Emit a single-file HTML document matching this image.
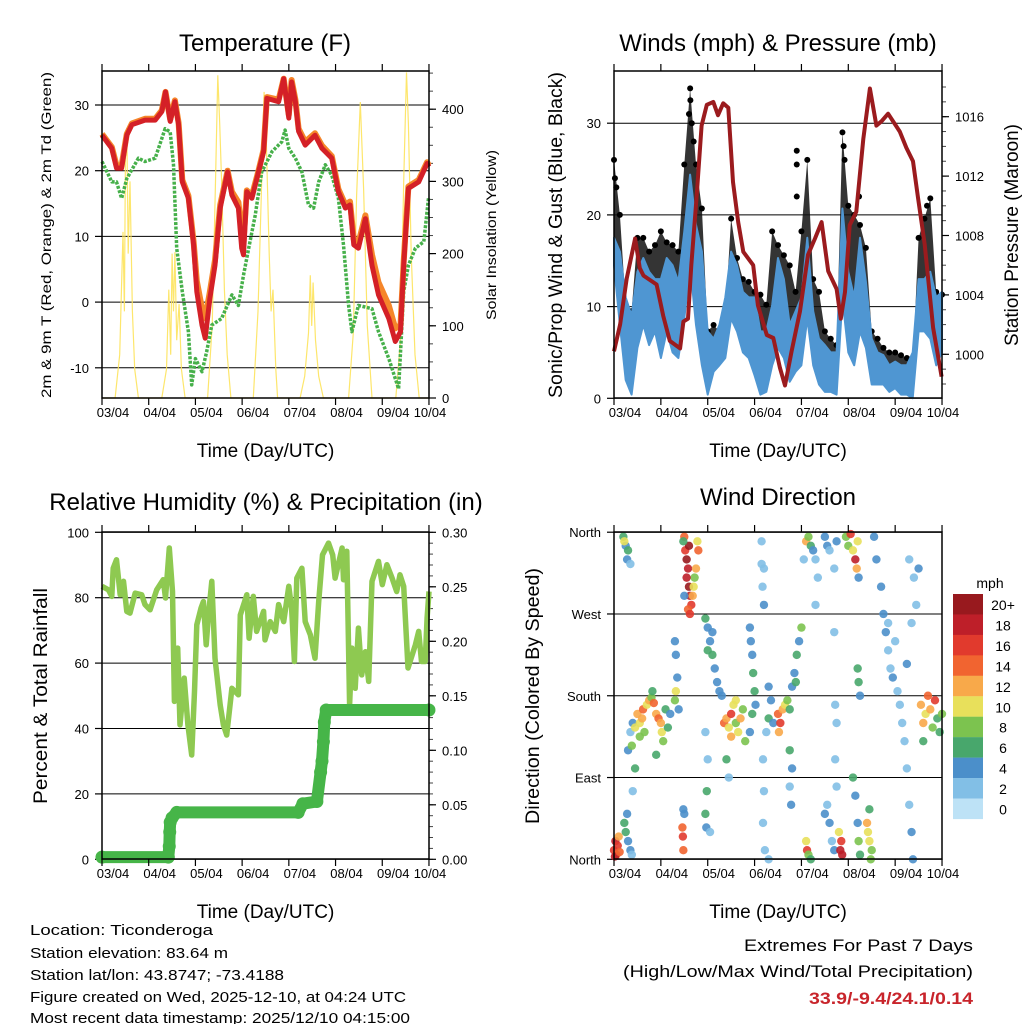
<!DOCTYPE html>
<html><head><meta charset="utf-8"><style>
body{margin:0;background:#fff;}
svg{display:block;font-family:"Liberation Sans",sans-serif;}
</style></head><body>
<svg id="c" width="1024" height="1024" viewBox="0 0 1024 1024"></svg>
<script>
// ---------- DATA ----------
const dayTickLabels=["03/04","04/04","05/04","06/04","07/04","08/04","09/04","10/04"];
const tempDay=[0,0.21,0.31,0.42,0.53,0.64,0.92,1.14,1.28,1.36,1.46,1.56,1.64,1.72,1.85,1.96,2.03,2.14,2.21,2.31,2.42,2.53,2.69,2.78,2.92,2.99,3.03,3.1,3.21,3.35,3.46,3.53,3.78,3.89,4.0,4.06,4.14,4.21,4.35,4.56,4.71,4.92,5.06,5.21,5.31,5.39,5.49,5.64,5.78,5.92,6.14,6.28,6.39,6.46,6.56,6.78,6.96,7.0];
const temp2m=[25.4,23.4,20.4,20.4,25.4,27,27.7,27.7,29,32,27.5,30.5,27,18.3,15.8,8.7,1.6,-3.5,-5.5,0.6,5.6,14.3,19.8,16.3,14.3,8.2,7.2,16.8,15.8,19.8,22.9,31,30.5,34,28,33.5,30.5,26,23.9,25.4,23.4,21.9,16.8,14.3,14.8,8.7,8.2,12.7,5.6,1.1,-2.5,-6.0,-4.5,5.6,17.3,18.3,21.1,20.6];
const temp9m=[25.6,23.6,20.8,20.8,25.6,27.2,27.9,27.9,29.2,32,27.8,30.7,27.3,18.6,16.2,9.2,3.2,-1.0,-2.5,1.6,6.4,14.8,20.0,16.8,15.2,10.5,9.0,17.0,16.2,20.0,23.2,31.2,30.8,34,28.5,33.8,30.8,26.4,24.4,25.7,23.8,22.2,17.2,14.8,15.3,9.5,9.0,13.2,7.2,3.0,-0.5,-4.0,-3.5,6.2,17.6,18.6,21.3,20.8];
const tdDay=[0,0.21,0.31,0.42,0.53,0.78,0.92,1.14,1.35,1.46,1.53,1.6,1.72,1.85,1.92,2.0,2.14,2.24,2.35,2.56,2.78,2.92,3.03,3.14,3.28,3.42,3.64,3.85,3.92,4.0,4.14,4.28,4.42,4.53,4.64,4.78,4.92,5.06,5.17,5.28,5.35,5.49,5.78,5.92,6.14,6.35,6.46,6.56,6.71,6.89,6.99];
const dewpoint=[21.4,18.3,18.3,15.8,18.8,21.9,21.4,21.9,26.4,25.9,20.9,8.2,1.6,-4.5,-12.6,-8.6,-10.6,-7.6,-3.5,-2.5,1.1,-0.5,4.1,8.2,13.2,19.8,22.9,24.4,26.2,23.4,21.9,19.8,14.8,14.3,18.3,20.9,19.3,15.8,8.7,-0.5,-4.5,-0.5,-1.0,-4.5,-8.6,-13.2,1.6,5.6,8.2,9.2,15.8];
const solarDay=[0,0.28,0.38,0.45,0.48,0.5,0.53,0.56,0.6,0.65,0.7,0.78,1.28,1.38,1.43,1.47,1.5,1.53,1.56,1.6,1.65,1.7,1.78,2.26,2.36,2.43,2.48,2.52,2.56,2.62,2.68,2.76,3.24,3.34,3.42,3.47,3.52,3.58,3.62,3.66,3.72,3.76,4.24,4.34,4.42,4.46,4.49,4.52,4.57,4.64,4.74,5.28,5.38,5.45,5.53,5.6,5.68,5.78,6.29,6.39,6.46,6.52,6.56,6.62,6.7,6.79,7.0];
const solarVal=[0,0,60,230,120,330,374,200,300,120,40,0,0,40,150,60,200,120,202,80,130,40,0,0,100,300,447,380,300,150,60,0,0,120,300,424,350,200,120,150,40,0,0,30,90,170,100,160,80,30,0,0,90,280,410,290,100,0,0,80,300,451,380,200,60,0,0];
const windDay=[0,0.125,0.25,0.375,0.5,0.625,0.75,0.875,1,1.125,1.25,1.375,1.5,1.625,1.75,1.875,2,2.125,2.25,2.375,2.5,2.625,2.75,2.875,3,3.125,3.25,3.375,3.5,3.625,3.75,3.875,4,4.125,4.25,4.375,4.5,4.625,4.75,4.875,5,5.125,5.25,5.375,5.5,5.625,5.75,5.875,6,6.125,6.25,6.375,6.5,6.625,6.75,6.875,7];
const windHigh=[17.5,16,11,9,13.8,15.3,13.8,13,13,15.3,14.5,12.7,18.2,24.4,18.9,16,7.3,6.5,8,11,16,14.5,11.6,11,11,7.3,7.3,10.2,15.3,13,8,9.5,11,17.5,9.5,6.5,5.8,5,5,20.7,13.8,11,17.5,12.7,6.5,5,4.7,3.6,4,3.6,3.6,5,13,13,13.8,11,11.6];
const windLow=[14.5,8,2,0.4,5.5,8,5.8,7.3,4.4,7.3,5,4.4,8.7,14.5,8,3.6,0.4,2.9,3.6,4.4,8.7,7.3,5,4.4,2.5,0.4,0.7,3.6,5.5,4.4,1.8,2.9,3.6,8.7,3.6,1.5,0.7,0.7,0.4,10.9,5,3.6,7.3,5.5,1.5,1.5,1.5,0.7,1.1,0.4,0.4,0,7.3,7.3,6.5,3.6,5];
const windGust=[26,20,10.2,9.5,17.5,17.5,16,16.7,18.2,17,16.7,16,25.5,33.8,25.5,20.7,7.3,8,7.3,9.1,19.6,15.3,13,12.7,11.6,11.3,10.2,18.2,16.7,15.6,14.5,11.6,18.2,26,13,11.6,7.3,6.5,5.8,29,21,20,18.9,16.4,7.3,6.5,5.5,5,5,4.7,4.4,3.6,17.5,19.6,21.8,11.6,11.3];
const gustExtraDay=[0.02,0.05,1.6,1.63,1.66,1.7,3.9,3.9,3.9,4.9,4.92,5.23,6.68];
const gustExtraVal=[24,23,31,32.5,30,28,27,25.5,22,27.5,26,22,21];
const presDay=[0,0.13,0.27,0.45,0.55,0.63,0.91,1.05,1.19,1.41,1.48,1.58,1.65,1.76,1.87,1.98,2.12,2.22,2.33,2.44,2.54,2.65,2.76,2.97,3.07,3.26,3.4,3.54,3.65,3.79,3.97,4.14,4.29,4.43,4.57,4.75,4.84,4.93,5.03,5.17,5.32,5.46,5.6,5.71,5.85,6.1,6.24,6.38,6.49,6.63,6.81,6.99];
const pressure=[1000.2,1002,1005.1,1007.8,1005.8,1005.3,1004.7,1002.6,1000.9,1000.4,1002.2,1002.4,1006,1010.5,1015.4,1016.8,1017,1016.1,1016.9,1016.6,1011.6,1008.9,1006.9,1006,1003.3,1001.3,1001.1,999.1,997.9,1000.2,1002.9,1006.7,1007.8,1008.9,1005.6,1004.4,1002.4,1004.2,1008.7,1009.6,1014.5,1017.9,1015.4,1015.7,1016.2,1015,1013.9,1013,1010.5,1007.4,1001.8,998.5];
const rhDay=[0,0.14,0.21,0.24,0.31,0.39,0.46,0.53,0.6,0.71,0.85,0.92,1.03,1.17,1.31,1.36,1.44,1.51,1.55,1.62,1.67,1.76,1.84,1.92,1.98,2.03,2.12,2.17,2.23,2.28,2.35,2.42,2.53,2.6,2.67,2.78,2.92,2.96,3.1,3.15,3.24,3.31,3.46,3.49,3.6,3.71,3.78,3.89,4.0,4.06,4.12,4.17,4.28,4.35,4.46,4.56,4.64,4.72,4.85,4.94,4.99,5.14,5.17,5.24,5.3,5.35,5.42,5.49,5.56,5.64,5.71,5.78,5.92,6.0,6.1,6.21,6.31,6.38,6.46,6.55,6.71,6.78,6.84,6.92,6.96,7.0];
const rhVal=[83.5,82.4,80.4,89,91.6,80.9,85,75.8,75.3,81.4,80.9,77.9,76.3,82.4,85.5,79.9,95.2,81.9,48.3,64.6,41.1,55.4,41.1,31.9,51.3,71.7,76.8,78.8,65.6,74.7,85,61.5,47.2,41.1,38,52.3,50.3,74.7,80.9,67.6,80.4,69.7,75.8,67.1,72.7,69.7,77.9,72.7,83.5,76.8,60.5,86,89,72.7,68.7,61.5,78.8,93.1,96.7,93.1,86,95.2,85.5,94.2,47.2,64.6,52.3,70.7,56.4,63.5,54.4,85,91.1,84,90.1,86,81.9,87,83.5,58.5,65.6,69.7,60.5,60.5,73.8,81.9];
const precipDay=[0,1.42,1.44,1.45,1.46,1.5,1.6,4.2,4.3,4.6,4.68,4.71,4.74,4.76,4.8,7.0];
const precipVal=[0.002,0.002,0.012,0.025,0.034,0.038,0.043,0.043,0.051,0.053,0.08,0.09,0.108,0.126,0.137,0.137];
const dirDay=[0.0,0.03,0.05,0.08,0.1,0.02,0.12,0.2,0.25,0.3,0.28,0.35,0.22,0.22,0.25,0.28,0.3,0.35,0.38,0.4,0.3,0.35,0.4,0.45,0.5,0.55,0.6,0.62,0.65,0.7,0.75,0.8,0.82,0.85,0.9,0.95,1.0,1.02,1.05,1.1,1.15,1.2,1.3,1.32,1.35,1.38,0.45,0.38,0.55,0.9,1.3,1.32,1.5,1.52,1.55,1.58,1.6,1.62,1.65,1.58,1.62,1.7,1.75,1.8,1.78,1.72,1.68,1.6,1.55,1.5,1.48,1.46,1.47,1.48,1.5,1.48,1.95,2.0,2.05,2.1,2.15,2.2,2.25,2.0,2.1,2.3,1.95,1.97,1.98,2.05,1.95,2.0,2.35,2.4,2.45,2.5,2.55,2.6,2.65,2.7,2.75,2.8,2.5,2.6,2.4,2.45,2.9,2.92,2.95,2.97,3.0,3.02,2.95,2.9,3.15,3.15,3.17,3.2,3.2,3.3,3.35,3.3,3.25,3.18,3.2,3.18,3.22,3.3,3.4,3.5,3.55,3.6,3.65,3.52,3.7,3.75,3.8,3.85,3.9,3.95,4.0,3.88,3.75,3.8,3.75,3.78,4.1,4.15,4.2,4.25,4.3,4.35,4.3,4.05,4.1,4.12,4.15,4.2,4.5,4.55,4.6,4.7,4.75,4.55,4.6,4.65,4.7,4.5,4.83,4.85,4.87,4.8,4.7,4.75,4.72,4.75,4.72,4.95,5.0,5.05,5.1,5.15,5.18,5.2,5.22,5.2,5.22,5.25,5.1,5.15,5.2,5.22,5.25,5.4,5.42,5.45,5.5,5.48,5.45,5.55,5.6,5.7,5.75,5.8,5.85,5.9,5.95,6.0,5.85,6.05,6.1,6.15,6.2,6.25,6.3,6.35,6.38,6.25,6.3,6.4,6.45,6.5,6.35,6.55,6.6,6.65,6.7,6.75,6.8,6.85,6.9,6.95,6.6,7.0];
const dirDeg=[10,20,5,15,25,3,8,355,345,340,330,325,350,40,30,50,20,10,5,75,120,140,150,145,160,150,155,165,140,170,175,178,185,172,160,155,150,140,130,165,145,160,175,185,200,165,100,125,135,115,240,225,355,340,330,320,300,290,280,275,270,300,320,340,350,310,290,345,310,290,350,35,25,10,50,55,265,255,240,225,210,195,185,230,250,180,50,35,75,30,140,110,150,155,145,160,170,150,140,155,165,130,135,175,110,90,255,240,225,205,185,170,160,140,350,325,300,280,320,190,175,155,140,110,75,40,10,0,150,160,150,165,170,140,175,120,190,205,225,240,255,195,165,100,80,60,350,355,345,340,330,310,280,330,20,10,5,0,355,345,340,320,350,60,40,20,10,50,10,20,5,30,250,150,110,80,170,355,345,358,340,330,320,350,310,210,195,180,90,70,40,20,5,40,30,20,10,0,55,355,330,300,270,250,230,210,200,240,260,185,170,150,130,100,60,30,0,215,330,310,280,320,260,170,150,160,180,165,145,175,155,140,130,160];
const dirSpd=[16,18,14,16,12,18,14,6,4,6,4,2,10,6,6,4,4,4,2,2,4,2,4,10,12,10,12,14,8,10,12,8,6,14,12,14,12,10,8,6,6,4,8,10,4,4,6,8,8,6,4,4,14,16,20,18,20,18,16,14,16,10,12,14,10,8,12,20,18,4,6,14,16,14,4,4,6,4,4,6,4,4,4,6,4,4,6,4,6,2,2,2,14,12,10,16,10,8,10,12,8,8,12,10,6,2,4,4,4,6,6,4,6,4,2,2,2,4,2,4,4,6,2,2,2,2,2,2,4,14,16,12,10,12,8,6,4,4,6,4,8,6,6,4,2,4,12,8,6,4,2,2,2,2,10,16,8,6,4,4,2,2,4,2,4,2,4,4,18,16,18,10,2,2,2,2,2,8,8,16,10,18,12,10,4,6,6,4,6,4,4,8,6,12,10,10,8,8,6,4,4,4,4,4,2,2,4,2,2,2,2,2,2,2,2,4,4,4,2,2,2,4,2,12,12,10,14,12,8,16,6,6,6,8];
const speedBinLabels=["0","2","4","6","8","10","12","14","16","18","20+"];
const speedBinColors=["#bde2f6","#82bfe6","#4b8fca","#48a76c","#7cc34f","#e8e05b","#f8a94a","#f16430","#e13a2d","#be1f29","#98191e"];

// ---------- HELPERS ----------
const NS="http://www.w3.org/2000/svg";
const svg=document.getElementById('c');
function mk(tag,attrs,parent,text){const e=document.createElementNS(NS,tag);for(const k in attrs)e.setAttribute(k,attrs[k]);if(text!==undefined)e.textContent=text;(parent||svg).appendChild(e);return e;}
function pts(xs,ys,fx,fy){return xs.map((d,i)=>fx(d).toFixed(1)+","+fy(ys[i]).toFixed(1)).join(" ");}

function panel(name,x0,y0,x1,y1){
  const g=mk('g',{});
  
  
  return {g,x0,y0,x1,y1};
}
function frame(p){
  const r=mk('rect',{x:p.x0,y:p.y0,width:p.x1-p.x0,height:p.y1-p.y0,fill:'none',stroke:'#000','stroke-width':1.5},p.g);
  
  
}
function xAxis(p,fx){
  const g=mk('g',{},p.g);
  
  
  dayTickLabels.forEach((lab,i)=>{
    const x=fx(i);
    mk('line',{x1:x,x2:x,y1:p.y0,y2:p.y0-7,stroke:'#000','stroke-width':1.2},g);
    mk('line',{x1:x,x2:x,y1:p.y1,y2:p.y1+7,stroke:'#000','stroke-width':1.2},g);
    const lx=(i===dayTickLabels.length-1)?x+1:x+11;
    const t=mk('text',{x:lx,y:p.y1+19,'font-size':13,'text-anchor':'middle'},g,lab);
    
    
  });
  const tt=mk('text',{x:(p.x0+p.x1)/2,y:p.y1+59,'font-size':19,'text-anchor':'middle'},g,'Time (Day/UTC)');
  
  
}
function yAxisLeft(p,vals,labels,fy,grid){
  const g=mk('g',{},p.g);
  
  
  vals.forEach((v,i)=>{
    const y=fy(v);
    if(grid) mk('line',{x1:p.x0,x2:p.x1,y1:y,y2:y,stroke:'#000','stroke-width':1},g);
    mk('line',{x1:p.x0,x2:p.x0-7,y1:y,y2:y,stroke:'#000','stroke-width':1.2},g);
    const t=mk('text',{x:p.x0-13,y:y+5,'font-size':13,'text-anchor':'end'},g,labels[i]);
    
    
  });
}
function yAxisRight(p,vals,labels,fy,minor){
  const g=mk('g',{},p.g);
  
  
  minor.forEach(v=>{const y=fy(v);mk('line',{x1:p.x1,x2:p.x1+4,y1:y,y2:y,stroke:'#444','stroke-width':1},g);});
  vals.forEach((v,i)=>{
    const y=fy(v);
    mk('line',{x1:p.x1,x2:p.x1+7,y1:y,y2:y,stroke:'#000','stroke-width':1.2},g);
    const t=mk('text',{x:p.x1+13,y:y+5,'font-size':13,'text-anchor':'start'},g,labels[i]);
    
    
  });
}
function vtitle(p,x,y,txt,size,name,len){
  const a={x:0,y:0,'font-size':size,'text-anchor':'middle',transform:`translate(${x},${y}) rotate(-90)`};
  if(len){a.textLength=len;a.lengthAdjust='spacingAndGlyphs';}
  const t=mk('text',a,p.g,txt);
  
  
}
function title(p,x,y,txt,name){
  const t=mk('text',{x:x,y:y,'font-size':24,'text-anchor':'middle'},p.g,txt);
  
  
}
function range(a,b,s){const r=[];for(let v=a;v<=b+1e-9;v+=s)r.push(+v.toFixed(4));return r;}

// ---------- PANEL 1: TEMPERATURE ----------
{
const p=panel('temperature-panel',102,71,429,398);
const fx=d=>102+d*46.71, fy=t=>105+(30-t)*6.57, fs=s=>398-s*0.722;
title(p,265,51,'Temperature (F)','temperature-title');
yAxisLeft(p,[-10,0,10,20,30],["-10","0","10","20","30"],fy,true);
yAxisRight(p,[0,100,200,300,400],["0","100","200","300","400"],fs,range(0,450,25));
const sol=mk('polyline',{points:pts(solarDay,solarVal,fx,fs),fill:'none',stroke:'#fde35c','stroke-width':1.2,opacity:0.9},p.g);


const td=mk('polyline',{points:pts(tdDay,dewpoint,fx,fy),fill:'none',stroke:'#46b04a','stroke-width':3.5,'stroke-dasharray':'3,1.5','stroke-linejoin':'round'},p.g);


const t9=mk('polyline',{points:pts(tempDay,temp9m,fx,fy),fill:'none',stroke:'#f5862a','stroke-width':6,'stroke-linejoin':'round'},p.g);


const t2=mk('polyline',{points:pts(tempDay,temp2m,fx,fy),fill:'none',stroke:'#d42027','stroke-width':5,'stroke-linejoin':'round'},p.g);


frame(p);
xAxis(p,fx);
vtitle(p,51,235,'2m & 9m T (Red, Orange) & 2m Td (Green)',14,'y-axis-title',326);
vtitle(p,496,235,'Solar Insolation (Yellow)',14,'y2-axis-title',170);
}

// ---------- PANEL 2: WINDS & PRESSURE ----------
{
const p=panel('winds-pressure-panel',614,71,942,398);
const fx=d=>614+d*46.86, fy=w=>398.3-w*9.17, fp=v=>354.3-(v-1000)*14.85;
title(p,778,51,'Winds (mph) & Pressure (mb)','winds-title');
yAxisLeft(p,[0,10,20,30],["0","10","20","30"],fy,true);
yAxisRight(p,[1000,1004,1008,1012,1016],["1000","1004","1008","1012","1016"],fp,range(998,1018,1));
const revDay=windDay.slice().reverse(), revLow=windLow.slice().reverse();
const gb=mk('polygon',{points:pts(windDay,windGust,fx,fy)+" "+pts(revDay,revLow,fx,fy),fill:'#111',opacity:0.85},p.g);


windDay.forEach((d,i)=>{const c=mk('circle',{cx:fx(d),cy:fy(windGust[i]),r:3,fill:'#000'},p.g);

});
gustExtraDay.forEach((d,i)=>{const c=mk('circle',{cx:fx(d),cy:fy(gustExtraVal[i]),r:3,fill:'#000'},p.g);

});
const wb=mk('polygon',{points:pts(windDay,windHigh,fx,fy)+" "+pts(revDay,revLow,fx,fy),fill:'#4f96d2',stroke:'#4f96d2','stroke-width':2,'stroke-linejoin':'round'},p.g);


const pl=mk('polyline',{points:pts(presDay,pressure,fx,fp),fill:'none',stroke:'#9b1b1e','stroke-width':4,'stroke-linejoin':'round'},p.g);


frame(p);
xAxis(p,fx);
vtitle(p,562,235,'Sonic/Prop Wind & Gust (Blue, Black)',19,'y-axis-title',326);
vtitle(p,1018,235,'Station Pressure (Maroon)',19,'y2-axis-title',222);
}

// ---------- PANEL 3: RH & PRECIP ----------
{
const p=panel('humidity-precip-panel',102,532,429,859);
const fx=d=>102+d*46.71, fy=r=>859.3-r*3.27, fp=v=>859.3-v*1090;
title(p,266,510,'Relative Humidity (%) & Precipitation (in)','humidity-title');
yAxisLeft(p,[0,20,40,60,80,100],["0","20","40","60","80","100"],fy,true);
yAxisRight(p,range(0,0.3,0.05),["0.00","0.05","0.10","0.15","0.20","0.25","0.30"],fp,range(0,0.3,0.01));
const rh=mk('polyline',{points:pts(rhDay,rhVal,fx,fy),fill:'none',stroke:'#8ec951','stroke-width':5.5,'stroke-linejoin':'round'},p.g);


const pr=mk('polyline',{points:pts(precipDay,precipVal,fx,fp),fill:'none',stroke:'#46b548','stroke-width':12,'stroke-linecap':'round','stroke-linejoin':'round'},p.g);


precipDay.forEach((d,i)=>{const c=mk('circle',{cx:fx(d),cy:fp(precipVal[i]),r:6.5,fill:'#46b548'},p.g);

});
frame(p);
xAxis(p,fx);
vtitle(p,47,696,'Percent & Total Rainfall',19,'y-axis-title',216);
}

// ---------- PANEL 4: WIND DIRECTION ----------
{
const p=panel('wind-direction-panel',614,532,942,859);
const fx=d=>614+d*46.86, fy=g=>859.3-g*0.9086;
title(p,778,505,'Wind Direction','wind-direction-title');
yAxisLeft(p,[0,90,180,270,360],["North","East","South","West","North"],fy,true);
const dg=mk('g',{},p.g);


dirDay.forEach((d,i)=>{
  const b=Math.min(10,Math.floor(dirSpd[i]/2));
  const c=mk('circle',{cx:fx(d),cy:fy(dirDeg[i]),r:4.2,fill:speedBinColors[b],opacity:0.9},dg);
  
  
});
frame(p);
xAxis(p,fx);
vtitle(p,539,696,'Direction (Colored By Speed)',19,'y-axis-title',256);
const lg=mk('g',{},svg);


const lt=mk('text',{x:990,y:588,'font-size':14,'text-anchor':'middle'},lg,'mph');


for(let k=0;k<11;k++){
  const idx=10-k, y=594+k*20.45;
  const r=mk('rect',{x:953,y:y,width:30,height:20.6,fill:speedBinColors[idx]},lg);
  
  
  const t=mk('text',{x:1003,y:y+16,'font-size':14,'text-anchor':'middle'},lg,speedBinLabels[idx]);
  
  
}
}
</script>
<div style="position:absolute;left:0;top:0;width:1024px;height:1024px;pointer-events:none">
<svg width="1024" height="1024" style="font-family:'Liberation Sans',sans-serif">
<g font-size="14.5">
<text x="30" y="935" textLength="183" lengthAdjust="spacingAndGlyphs">Location: Ticonderoga</text>
<text x="30" y="958" textLength="198" lengthAdjust="spacingAndGlyphs">Station elevation: 83.64 m</text>
<text x="30" y="980" textLength="254" lengthAdjust="spacingAndGlyphs">Station lat/lon: 43.8747; -73.4188</text>
<text x="30" y="1002" textLength="376" lengthAdjust="spacingAndGlyphs">Figure created on Wed, 2025-12-10, at 04:24 UTC</text>
<text x="30" y="1023" textLength="380" lengthAdjust="spacingAndGlyphs">Most recent data timestamp: 2025/12/10 04:15:00</text>
</g>
<g font-size="17" text-anchor="end">
<text x="973" y="951" textLength="229" lengthAdjust="spacingAndGlyphs">Extremes For Past 7 Days</text>
<text x="973" y="977" textLength="350" lengthAdjust="spacingAndGlyphs">(High/Low/Max Wind/Total Precipitation)</text>
<text x="973" y="1004" fill="#c8242b" font-weight="bold" textLength="164" lengthAdjust="spacingAndGlyphs">33.9/-9.4/24.1/0.14</text>
</g>
</svg>
</div>
</body></html>
